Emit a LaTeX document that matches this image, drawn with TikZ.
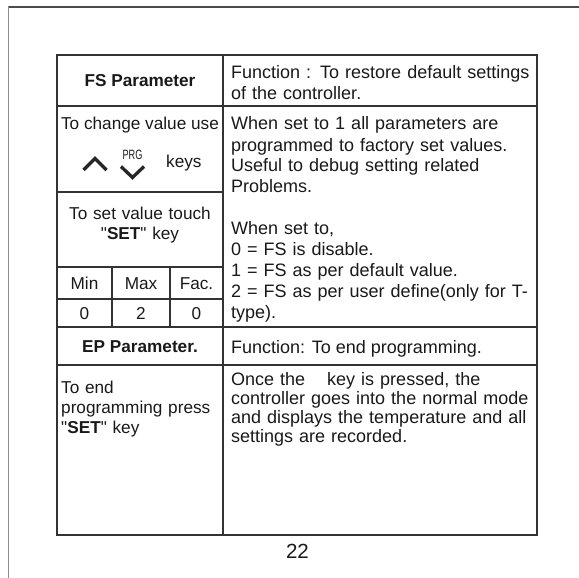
\documentclass[tikz,border=0pt]{standalone}
\usepackage{fontspec}
\setmainfont{Liberation Sans}[Ligatures=TeXOff]
\usepackage{tikz}
\usetikzlibrary{positioning}

\newcommand{\leftsize}{\fontsize{17.2}{20.5}\selectfont}
\newcommand{\rightsize}{\fontsize{18}{21}\selectfont}

\begin{document}
\begin{tikzpicture}[x=1pt, y=-1pt,
  cell/.style={rectangle, draw=black!80, line width=1.5pt, anchor=north west,
    inner sep=0pt, outer sep=0pt, text=black!90, font=\leftsize,
    text height=12.6pt, text depth=0pt},
  txt/.style={inner sep=0pt, text=black!90},
  para/.style={txt, anchor=base west, align=left},
  chevron/.style={line width=3.3pt, black!85, line cap=butt, line join=miter},
  ]
  \useasboundingbox (0,0) rectangle (579,578);
  %page frame
  \draw[black!70, line width=1.4pt] (8.5,7) -- (579,7);
  \draw[black!45, line width=1.4pt] (8.5,6.3) -- (8.5,578);

  %cells
  \node at (57,55) [cell, minimum width=166pt, minimum height=51pt, font=\leftsize\bfseries] (fshead) {FS Parameter};
  \node at (223,55) [cell, minimum width=314pt, minimum height=51pt] (fsfunc) {};
  \node at (57,106) [cell, minimum width=166pt, minimum height=86pt] (keyuse) {};
  \node at (57,192) [cell, minimum width=166pt, minimum height=75pt] (setkey) {};
  \node at (223,106) [cell, minimum width=314pt, minimum height=221pt] (fsdesc) {};
  \node at (57,267) [cell, minimum width=55pt, minimum height=32pt] (minhead) {Min};
  \node at (112,267) [cell, minimum width=58pt, minimum height=32pt] (maxhead) {Max};
  \node at (170,267) [cell, minimum width=53pt, minimum height=32pt] (fachead) {Fac.};
  \node at (57,299) [cell, minimum width=55pt, minimum height=28pt] (minval) {0};
  \node at (112,299) [cell, minimum width=58pt, minimum height=28pt] (maxval) {2};
  \node at (170,299) [cell, minimum width=53pt, minimum height=28pt] (facval) {0};
  \node at (57,327) [cell, minimum width=166pt, minimum height=38pt, font=\leftsize\bfseries] (ephead) {EP Parameter.};
  \node at (223,327) [cell, minimum width=314pt, minimum height=38pt] (epfunc) {};
  \node at (57,365) [cell, minimum width=166pt, minimum height=170pt] (endprog) {};
  \node at (223,365) [cell, minimum width=314pt, minimum height=170pt] (epdesc) {};

  %texts
  \node at (231,79) [para, font=\fontsize{18}{20.5}\selectfont, text width=300pt] (fsfunctext) {Function : To restore default settings\\of the controller.};
  \node at (140,129) [txt, anchor=base, font=\leftsize] (keyusetext) {To change value use};
  \node at (132.5,155) [txt, font=\fontsize{13.5}{13.5}\selectfont] (prg) {\scalebox{0.68}[1]{PRG}};
  \node at (166,167) [txt, anchor=base west, font=\leftsize] (keys) {keys};
  \draw[chevron] (83.5,170) -- (95,158.5) -- (106.5,170);
  \draw[chevron] (121,166.5) -- (132.5,177.5) -- (144,166.5);
  \node at (140,219) [txt, anchor=base, align=center, text width=160pt, font=\leftsize] (settext) {To set value touch\\"\textbf{SET}" key};
  \node at (231,130) [para, font=\rightsize, text width=300pt] (fsdesctext) {When set to 1 all parameters are\\programmed to factory set values.\\Useful to debug setting related\\Problems.\\[21pt]When set to,\\0 = FS is disable.\\1 = FS as per default value.\\2 = FS as per user define(only for T-\\type).};
  \node at (231,353) [para, font=\rightsize] (epfunctext) {Function: To end programming.};
  \node at (61,393) [para, font=\fontsize{17.2}{20}\selectfont, text width=160pt] (endprogtext) {To end\\programming press\\"\textbf{SET}" key};
  \node at (231,385) [para, font=\fontsize{18}{19}\selectfont, text width=297pt] (epdesctext) {\makebox[\linewidth][s]{Once the\hspace{16pt} key is pressed, the}\\\makebox[\linewidth][s]{controller goes into the normal mode}\\\makebox[\linewidth][s]{and displays the temperature and all}\\settings are recorded.};
  \node at (297.5,558) [txt, anchor=base, font=\fontsize{20.5}{20.5}\selectfont] (pagenum) {22};
\end{tikzpicture}
\end{document}
